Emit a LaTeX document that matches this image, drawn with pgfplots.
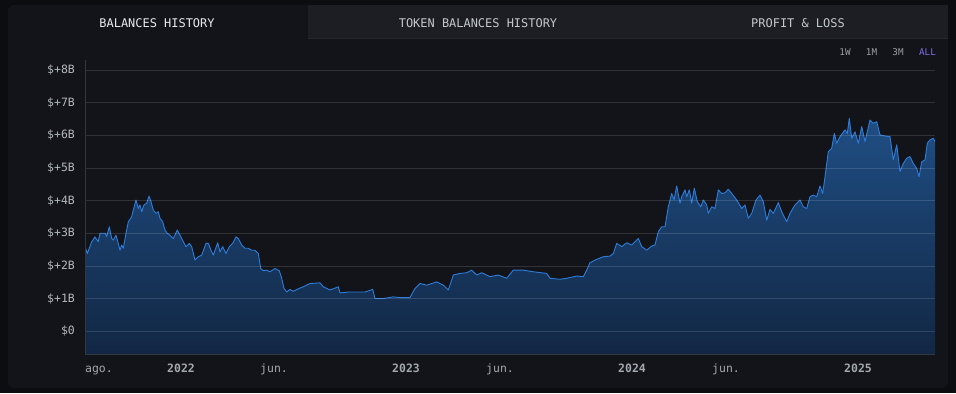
\documentclass[border=0pt]{standalone}
\usepackage{pgfplots}
\pgfplotsset{compat=1.18}
\usepackage{pgfplotstable}
\usepackage{fontspec}
\setmainfont{DejaVu Sans Mono}
\definecolor{outerbg}{HTML}{0B0D11}
\definecolor{panelbg}{HTML}{121419}
\definecolor{tabbg}{HTML}{1C1E23}
\definecolor{tabline}{HTML}{26282D}
\definecolor{axisc}{HTML}{33373F}
\definecolor{linec}{HTML}{2D7DDC}
\definecolor{filltop}{HTML}{1F4E84}
\definecolor{fillbot}{HTML}{122744}
\definecolor{ylab}{HTML}{B4B8BF}
\definecolor{mlab}{HTML}{A4A8AF}
\definecolor{yrlab}{HTML}{CACDD2}
\definecolor{tabact}{HTML}{E8EAEE}
\definecolor{tabin}{HTML}{C4C7CC}
\definecolor{rangec}{HTML}{9A9FA7}
\definecolor{allc}{HTML}{7D6FE3}
\pgfplotstableread{
x y
85 2.59
87.3 2.38
91.7 2.74
95 2.89
98.3 2.74
100 3.0
105 3.0
106.7 2.9
109.3 3.2
111.7 2.84
113.3 2.79
116 2.94
118.3 2.69
120 2.48
121.7 2.64
123.3 2.54
126 3.0
128.3 3.35
131.7 3.51
133.3 3.71
136 4.02
138.3 3.76
140 3.87
141.7 3.66
144 3.87
146.7 3.92
149 4.14
151 3.97
153.3 3.71
156 3.61
158.3 3.66
160 3.46
162.7 3.35
165 3.1
167.3 3.0
170 2.94
173.3 2.84
177.3 3.1
180 2.94
183.3 2.74
186 2.59
189.3 2.69
191.7 2.59
195 2.18
198.3 2.28
201.7 2.33
206 2.69
208.3 2.69
211 2.48
213.3 2.33
217.7 2.71
220 2.43
222.7 2.59
226 2.38
229.3 2.59
232.7 2.69
236 2.89
238.3 2.84
241.7 2.64
245 2.54
248.3 2.54
251.7 2.48
255 2.48
258.3 2.38
260.7 1.92
263.3 1.85
266.7 1.87
270 1.82
275 1.92
279.3 1.85
281.7 1.62
284 1.31
286.7 1.2
290 1.28
293.3 1.22
298.3 1.3
303.3 1.36
310 1.46
320 1.48
323.3 1.36
330 1.26
338.3 1.36
340 1.17
348.3 1.2
356.7 1.2
365 1.2
372.7 1.28
375 1.0
383.3 1.0
393.3 1.05
400 1.03
410 1.03
415 1.31
420 1.46
426.7 1.41
431.7 1.46
436.7 1.51
443.3 1.41
448.3 1.26
453.3 1.72
460 1.77
466.7 1.79
471.7 1.87
476.7 1.72
481.7 1.79
490 1.67
498.3 1.72
506.7 1.62
513.3 1.87
523.3 1.87
533.3 1.82
546.7 1.77
550 1.62
560 1.59
566.7 1.62
576.7 1.69
583.3 1.67
586.7 1.87
590 2.1
596.7 2.2
603.3 2.28
610 2.3
613.3 2.38
616.7 2.69
621.7 2.59
626.7 2.71
631.7 2.64
635 2.74
638.3 2.84
641.7 2.59
646.7 2.48
651.7 2.61
655 2.64
658.3 3.05
661.7 3.2
665 3.2
668.3 3.81
671.7 4.22
674 4.02
676.7 4.45
680 3.92
681.7 4.12
685 4.33
686.7 4.12
689.3 4.33
691.7 3.92
694.3 4.38
697.3 3.97
700.7 3.81
703.3 4.02
706.7 3.87
708.3 3.61
711.7 3.81
715 3.76
718.3 4.33
721.7 4.22
725 4.24
728.3 4.35
731.7 4.22
736.7 4.02
741.7 3.76
745 3.87
748.3 3.46
751.7 3.61
756 4.02
760 4.17
763.3 3.97
766.7 3.4
770 3.73
773.3 3.61
778.3 3.94
781.7 3.66
786.7 3.35
790 3.61
795 3.87
800 4.02
803.3 3.81
806.7 3.76
810 4.12
813.3 4.17
816.7 4.12
820 4.45
822.7 4.22
825 4.73
828.3 5.5
831.7 5.6
834.3 6.06
836.7 5.76
840 5.96
845 6.17
847.3 6.06
849.3 6.52
851.7 5.91
855 6.11
858.3 5.76
861.7 6.27
865 5.81
867.7 6.17
870 6.47
873.3 6.37
876.7 6.42
880 6.01
885 5.98
890 5.96
893.3 5.25
896.7 5.71
900 4.89
903.3 5.14
906.7 5.3
910 5.35
913.3 5.14
916.7 4.99
919 4.73
921.7 5.19
925 5.25
927.3 5.76
930 5.86
933.3 5.91
935 5.81
}\balances
\begin{document}
\begin{tikzpicture}
\begin{scope}[x=1bp,y=1bp]
  \fill[outerbg] (0,0) rectangle (956,393);
  \fill[panelbg, rounded corners=6bp] (8,5) rectangle (948,388);
  \fill[tabbg] (308,354) rectangle (948,388);
  \draw[tabline, line width=1bp] (308,354.5) -- (948,354.5);
  \node[text=tabact, font=\fontsize{12}{14}\selectfont, inner sep=0pt] at (157,370) {BALANCES HISTORY};
  \node[text=tabin, font=\fontsize{12}{14}\selectfont, inner sep=0pt] at (478,370) {TOKEN BALANCES HISTORY};
  \node[text=tabin, font=\fontsize{12}{14}\selectfont, inner sep=0pt] at (798,370) {PROFIT \& LOSS};
  \node[text=rangec, font=\fontsize{9.3}{11}\selectfont, inner sep=0pt] at (845,341) {1W};
  \node[text=rangec, font=\fontsize{9.3}{11}\selectfont, inner sep=0pt] at (871.5,341) {1M};
  \node[text=rangec, font=\fontsize{9.3}{11}\selectfont, inner sep=0pt] at (898,341) {3M};
  \node[text=allc, font=\fontsize{9.3}{11}\selectfont, inner sep=0pt] at (927.5,341) {ALL};
\end{scope}
\begin{axis}[
  at={(85bp,39bp)}, anchor=south west,
  scale only axis, width=850bp, height=294bp,
  xmin=85, xmax=935, ymin=-0.7, ymax=8.31,
  axis on top,
  axis x line*=bottom, axis y line*=left,
  axis line style={draw=axisc, line width=0.8pt},
  major tick length=0pt,
  ytick={0,1,2,3,4,5,6,7,8},
  yticklabels={\$0,\$+1B,\$+2B,\$+3B,\$+4B,\$+5B,\$+6B,\$+7B,\$+8B},
  yticklabel style={anchor=east, inner sep=0pt, xshift=-10bp, text=ylab, font=\fontsize{11.5}{13}\selectfont},
  xtick={99,181,274,406,500,632,726,858},
  xticklabels={ago.,\textbf{2022},jun.,\textbf{2023},jun.,\textbf{2024},jun.,\textbf{2025}},
  xticklabel style={anchor=base, inner sep=0pt, yshift=-18bp, text=mlab, font=\fontsize{11.5}{13}\selectfont},
  ymajorgrids, grid style={draw=white, draw opacity=0.13, line width=0.7pt},
  clip=true,
]
\addplot[draw=none, top color=filltop, bottom color=fillbot] table[x=x,y=y] {\balances} |- (axis cs:85,-0.7) -- cycle;
\addplot[linec, line width=0.9bp, line join=round] table[x=x,y=y] {\balances};
\end{axis}
\end{tikzpicture}
\end{document}
